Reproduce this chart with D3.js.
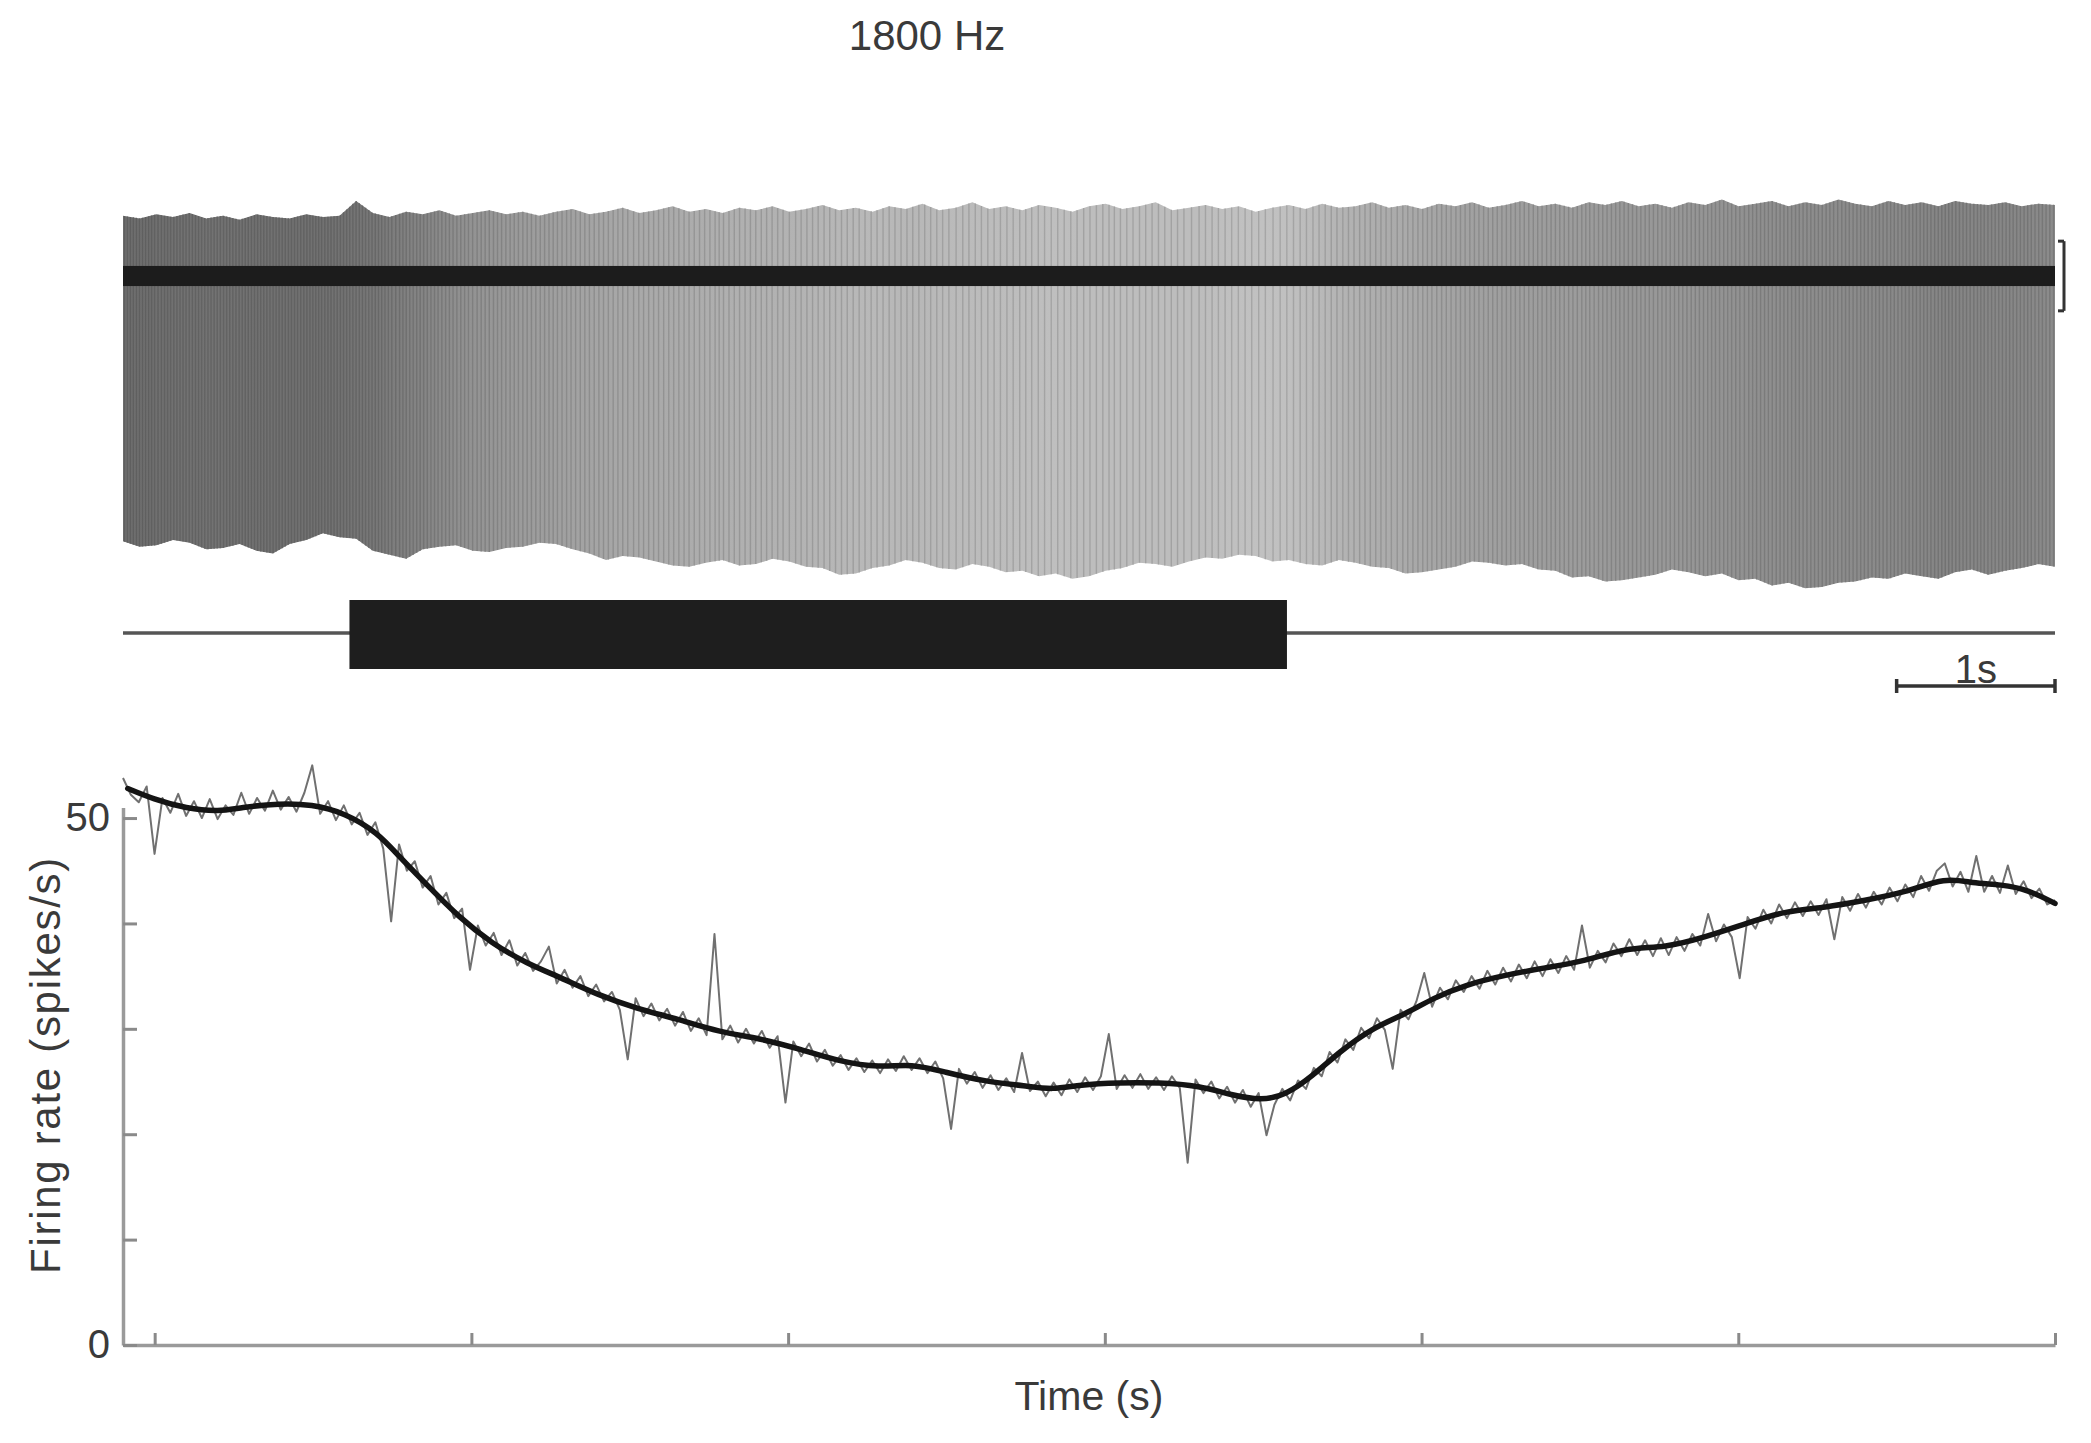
<!DOCTYPE html>
<html><head><meta charset="utf-8">
<script src="https://cdn.jsdelivr.net/npm/d3@7"></script>
<style>
body{margin:0;background:#fff}
svg{display:block}
text{font-family:"Liberation Sans",Arial,Helvetica,sans-serif;fill:#3a3a3a}
</style>
</head><body><svg id="c" width="2091" height="1443"></svg>
<script>
// ---------------- data ----------------
const titleText = "1800 Hz";
const yLabelText = "Firing rate (spikes/s)";
const xLabelText = "Time (s)";
const timeDomain = [-0.2, 12.0];          // s
const timeTicks = [0, 2, 4, 6, 8, 10, 12];
const rateTicks = [0, 10, 20, 30, 40, 50];
const rateTickLabels = ["0", "", "", "", "", "50"];
const stimulusOn = [1.23, 7.15];          // s
const timeBar = [11, 12];                 // 1 s scale bar
const timeBarLabel = "1s";
const voltBar = [-0.26, 0.26];            // mV scale bar

// raw binned firing rate (spikes/s), bins start at rawStart, step rawStep
const rawStart = -0.2, rawStep = 0.0498;
const rawRate = [
53.8,52.2,51.5,53.0,46.6,51.9,50.5,52.3,50.2,51.6,
50.0,51.8,49.9,51.2,50.3,52.4,50.4,51.9,50.7,52.6,
50.8,52.0,50.6,52.4,55.0,50.4,51.6,49.8,51.2,49.4,
50.5,48.4,49.6,47.1,40.2,47.5,45.0,45.9,43.4,44.5,
41.8,42.9,40.5,41.4,35.6,39.8,37.9,39.1,37.0,38.4,
36.0,37.2,35.5,36.4,37.8,34.3,35.6,33.9,35.0,33.1,
34.2,32.6,33.5,31.8,27.1,32.9,31.2,32.4,30.8,31.9,
30.3,31.6,29.8,31.0,29.4,39.0,29.0,30.3,28.7,30.0,
28.6,29.8,28.2,29.3,23.0,28.8,27.4,28.6,26.9,28.0,
26.5,27.5,26.1,27.2,25.9,27.0,25.8,27.1,26.0,27.4,
26.1,27.2,25.8,26.9,25.3,20.5,26.2,24.8,25.9,24.4,
25.6,24.2,25.3,24.0,27.7,24.1,25.0,23.6,24.9,23.7,
25.2,24.0,25.4,24.2,25.5,29.5,24.3,25.6,24.4,25.7,
24.3,25.4,24.2,25.5,24.4,17.3,25.2,23.9,25.0,23.4,
24.5,23.0,24.2,22.6,23.9,19.9,22.8,24.3,23.2,25.1,
24.3,26.3,25.5,27.8,26.8,29.0,28.0,30.1,29.1,31.0,
29.9,26.2,31.8,30.9,32.6,35.3,32.1,33.9,32.8,34.6,
33.5,35.0,33.8,35.5,34.2,35.8,34.5,36.1,34.8,36.4,
35.0,36.6,35.3,36.9,35.6,39.8,35.8,37.4,36.3,38.1,
36.9,38.5,37.0,38.4,36.9,38.6,37.0,38.7,37.4,39.0,
37.9,40.9,38.3,39.9,38.7,34.8,40.6,39.5,41.3,40.0,
41.8,40.5,42.0,40.7,42.1,40.8,42.3,38.5,42.5,41.2,
42.8,41.5,43.0,41.8,43.4,42.1,43.7,42.5,44.5,43.1,
45.0,45.7,43.5,44.9,43.0,46.4,43.0,44.5,42.9,45.5,
42.8,44.0,42.4,43.3,41.8,42.2];

// smoothed firing rate
const smoothTimes = [-0.17,-0.01,0.20,0.41,0.54,0.79,0.99,1.20,1.41,1.54,1.71,1.92,2.13,2.35,2.56,2.80,3.05,3.31,3.56,3.82,4.07,4.32,4.58,4.78,4.99,5.24,5.50,5.67,5.84,6.09,6.34,6.60,6.80,6.99,7.14,7.31,7.48,7.69,7.90,8.07,8.28,8.53,8.78,9.03,9.29,9.54,9.79,10.05,10.30,10.55,10.80,11.05,11.31,11.48,11.66,11.83,12.00];
const smoothRate  = [52.8,51.8,50.9,50.6,51.0,51.4,51.3,50.5,48.6,46.4,43.8,40.6,38.1,36.2,34.9,33.2,31.9,30.9,29.7,29.1,28.1,26.9,26.3,26.7,25.9,25.0,24.6,24.2,24.7,24.9,24.9,24.6,23.7,23.2,23.7,25.5,27.8,30.1,31.4,32.9,34.2,35.1,35.8,36.4,37.7,37.7,38.7,40.0,41.2,41.5,42.2,42.9,44.4,43.8,43.7,43.2,41.9];

// spike-trace envelope (mV), evenly spaced across the time domain
const envUpper = [
0.45,0.43,0.46,0.44,0.47,0.43,0.45,0.42,0.46,0.44,
0.43,0.46,0.44,0.45,0.56,0.47,0.44,0.48,0.46,0.49,
0.45,0.47,0.49,0.46,0.48,0.45,0.48,0.50,0.46,0.48,
0.51,0.47,0.49,0.52,0.48,0.50,0.47,0.51,0.49,0.52,
0.48,0.50,0.53,0.49,0.51,0.48,0.52,0.50,0.54,0.49,
0.51,0.55,0.50,0.52,0.49,0.53,0.51,0.48,0.52,0.54,
0.50,0.52,0.55,0.49,0.51,0.53,0.50,0.52,0.48,0.51,
0.53,0.50,0.54,0.51,0.52,0.55,0.51,0.53,0.50,0.54,
0.52,0.55,0.51,0.53,0.56,0.52,0.54,0.51,0.55,0.53,
0.56,0.52,0.54,0.51,0.55,0.53,0.57,0.52,0.54,0.56,
0.52,0.55,0.53,0.57,0.54,0.52,0.56,0.53,0.55,0.52,
0.56,0.54,0.53,0.55,0.52,0.54,0.53];
const envLower = [
-1.98,-2.02,-2.01,-1.97,-1.99,-2.04,-2.03,-2.00,-2.05,-2.07,
-2.00,-1.97,-1.92,-1.95,-1.96,-2.05,-2.08,-2.11,-2.04,-2.02,
-2.01,-2.05,-2.06,-2.03,-2.02,-1.99,-2.00,-2.04,-2.07,-2.12,
-2.09,-2.10,-2.13,-2.16,-2.17,-2.14,-2.12,-2.16,-2.15,-2.11,
-2.13,-2.17,-2.18,-2.23,-2.22,-2.18,-2.16,-2.12,-2.14,-2.18,
-2.19,-2.15,-2.17,-2.21,-2.20,-2.24,-2.22,-2.26,-2.24,-2.20,
-2.18,-2.14,-2.15,-2.17,-2.13,-2.10,-2.11,-2.08,-2.09,-2.13,
-2.12,-2.15,-2.16,-2.12,-2.14,-2.17,-2.18,-2.22,-2.21,-2.19,
-2.17,-2.13,-2.14,-2.16,-2.15,-2.19,-2.20,-2.25,-2.24,-2.28,
-2.27,-2.25,-2.23,-2.19,-2.21,-2.24,-2.22,-2.27,-2.26,-2.31,
-2.29,-2.33,-2.32,-2.29,-2.28,-2.25,-2.26,-2.22,-2.24,-2.26,
-2.21,-2.19,-2.23,-2.20,-2.18,-2.15,-2.17];
const baselineNoise = 0.075; // half-thickness of baseline band (mV)

// ---------------- drawing ----------------
const svg = d3.select("#c");
svg.append("rect").attr("width",2091).attr("height",1443).attr("fill","#fff");

const x = d3.scaleLinear().domain(timeDomain).range([123, 2055]);
const v = d3.scaleLinear().domain([0.6, -2.5]).range([195.6, 611]);
const y = d3.scaleLinear().domain([0, 51]).range([1345, 807.5]);

const evenTimes = arr => arr.map((_, i) => timeDomain[0] + i * (timeDomain[1] - timeDomain[0]) / (arr.length - 1));
const upTimes = evenTimes(envUpper), loTimes = evenTimes(envLower);
const upperAt = d3.scaleLinear().domain(upTimes).range(envUpper).clamp(true);
const lowerAt = d3.scaleLinear().domain(loTimes).range(envLower).clamp(true);
const smoothAt = d3.scaleLinear().domain(smoothTimes).range(smoothRate).clamp(true);
const rateColor = d3.scaleLinear().domain([23, 52]).range(["#c2c2c2", "#6f6f6f"]).clamp(true);

// title
svg.append("text").attr("x", 927).attr("y", 50).attr("text-anchor","middle")
  .attr("font-size", 42).text(titleText);

// gradient for trace fill
const defs = svg.append("defs");
const x0 = x(timeDomain[0]), x1 = x(timeDomain[1]);
const grad = defs.append("linearGradient").attr("id","tg").attr("gradientUnits","userSpaceOnUse")
  .attr("x1", x0).attr("x2", x1).attr("y1",0).attr("y2",0);
smoothTimes.forEach((t,i)=>{
  grad.append("stop").attr("offset", Math.max(0,Math.min(1,(x(t)-x0)/(x1-x0))))
    .attr("stop-color", rateColor(smoothRate[i]));
});
defs.append("clipPath").attr("id","tc").append("rect")
  .attr("x", x0).attr("y", 150).attr("width", x1-x0).attr("height", 480);

const trace = svg.append("g").attr("clip-path","url(#tc)");
const envPts = upTimes.map(t=>[t, upperAt(t)]).concat(loTimes.slice().reverse().map(t=>[t, lowerAt(t)]));
trace.append("path").attr("d", d3.line().x(d=>x(d[0])).y(d=>v(d[1]))(envPts) + "Z").attr("fill","url(#tg)");

// spikes derived from the raw rate
const spikeTimes = [];
let acc = 0.5;
rawRate.forEach((r,i)=>{
  const t0 = rawStart + i*rawStep, a = acc;
  acc += r*rawStep;
  for (let k = Math.floor(a)+1; k <= acc; k++) spikeTimes.push(t0 + (k-a)/r);
});
trace.selectAll("line.spk").data(spikeTimes).join("line").attr("class","spk")
  .attr("x1", d=>x(d)).attr("x2", d=>x(d))
  .attr("y1", d=>v(upperAt(d))).attr("y2", d=>v(lowerAt(d)))
  .attr("stroke", d=>d3.color(rateColor(smoothAt(d))).darker(0.5))
  .attr("stroke-width", 1.4).attr("stroke-opacity", 0.85);

// baseline band
trace.append("rect").attr("x", x0).attr("width", x1-x0)
  .attr("y", v(baselineNoise)).attr("height", v(-baselineNoise)-v(baselineNoise)).attr("fill","#1c1c1c");

// voltage scale bar
const vb = svg.append("g").attr("stroke","#333").attr("stroke-width",3);
vb.append("line").attr("x1",2064).attr("x2",2064).attr("y1",v(voltBar[1])).attr("y2",v(voltBar[0]));
vb.append("line").attr("x1",2058).attr("x2",2064).attr("y1",v(voltBar[1])).attr("y2",v(voltBar[1]));
vb.append("line").attr("x1",2058).attr("x2",2064).attr("y1",v(voltBar[0])).attr("y2",v(voltBar[0]));

// stimulus
const stimY = 633;
svg.append("line").attr("x1", x0).attr("x2", x1)
  .attr("y1", stimY).attr("y2", stimY).attr("stroke","#555").attr("stroke-width",3.5);
svg.append("rect").attr("x", x(stimulusOn[0])).attr("width", x(stimulusOn[1])-x(stimulusOn[0]))
  .attr("y", 600).attr("height", 69).attr("fill","#1e1e1e");

// time scale bar
const tb = svg.append("g").attr("stroke","#333").attr("stroke-width",3.5);
const tbY = 686;
tb.append("line").attr("x1", x(timeBar[0])).attr("x2", x(timeBar[1])).attr("y1", tbY).attr("y2", tbY);
tb.append("line").attr("x1", x(timeBar[0])).attr("x2", x(timeBar[0])).attr("y1", tbY-7).attr("y2", tbY+7);
tb.append("line").attr("x1", x(timeBar[1])).attr("x2", x(timeBar[1])).attr("y1", tbY-7).attr("y2", tbY+7);
svg.append("text").attr("x", (x(timeBar[0])+x(timeBar[1]))/2).attr("y", tbY-3)
  .attr("text-anchor","middle").attr("font-size",40).text(timeBarLabel);

// ---- firing-rate panel ----
const gx = svg.append("g").attr("transform","translate(0,1345)")
  .call(d3.axisBottom(x).tickValues(timeTicks).tickSize(-12).tickSizeOuter(0).tickFormat(""));
const gy = svg.append("g").attr("transform","translate(123,0)")
  .call(d3.axisLeft(y).tickValues(rateTicks).tickSize(-14).tickSizeOuter(0).tickPadding(13)
    .tickFormat((d,i)=>rateTickLabels[i]));
[gx, gy].forEach(g=>{
  g.select(".domain").attr("stroke","#9a9a9a").attr("stroke-width",3.5);
  g.selectAll(".tick line").attr("stroke","#8a8a8a").attr("stroke-width",3);
});
gy.selectAll(".tick text").attr("font-size",40).attr("fill","#3a3a3a")
  .attr("font-family",'"Liberation Sans",Arial,sans-serif');

const rawLine = d3.line().x((d,i)=>x(rawStart + i*rawStep)).y(d=>y(d));
svg.append("path").datum(rawRate).attr("d", rawLine).attr("fill","none")
  .attr("stroke","#707070").attr("stroke-width",2).attr("stroke-linejoin","round");
const smLine = d3.line().x((d,i)=>x(smoothTimes[i])).y(d=>y(d)).curve(d3.curveBasis);
svg.append("path").datum(smoothRate).attr("d", smLine).attr("fill","none")
  .attr("stroke","#141414").attr("stroke-width",5.5).attr("stroke-linecap","round");

svg.append("text").attr("transform","translate(60,1065) rotate(-90)").attr("text-anchor","middle")
  .attr("font-size",42).attr("letter-spacing",1.7).text(yLabelText);
svg.append("text").attr("x",1089).attr("y",1410).attr("text-anchor","middle")
  .attr("font-size",41).text(xLabelText);
</script>
</body></html>
